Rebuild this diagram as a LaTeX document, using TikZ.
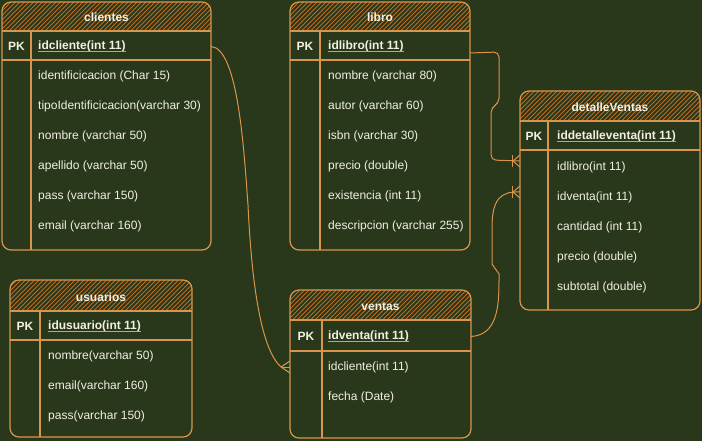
\documentclass[tikz,border=0pt]{standalone}
\usepackage{fontspec}
\setmainfont{Liberation Sans}
\definecolor{bg}{HTML}{29371B}
\definecolor{edge}{HTML}{D9954C}
\definecolor{hatchc}{HTML}{C06C22}
\definecolor{txt}{HTML}{F2F0E2}
\definecolor{ulc}{HTML}{A9AC98}
\tikzset{
  tblbox/.style={draw=edge, line width=1.2pt, rounded corners=9pt, inner sep=0pt, outer sep=0pt, rectangle},
  tblline/.style={draw=edge, line width=1.2pt},
  hatchline/.style={draw=hatchc, line width=0.9pt},
  fld/.style={font=\fontsize{12}{14}\selectfont, text=txt, anchor=west, inner sep=0pt, yshift=-1pt},
  pkfld/.style={fld, font=\fontsize{12}{14}\selectfont\bfseries},
  pklbl/.style={font=\fontsize{12}{14}\selectfont\bfseries, text=txt, inner sep=0pt, yshift=-1pt},
  ttl/.style={font=\fontsize{12}{14}\selectfont\bfseries, text=txt, inner sep=0pt, yshift=-1pt},
  ulline/.style={draw=ulc, line width=0.8pt},
  conn/.style={draw=edge, line width=1pt},
}
% #1 name, #2 x1, #3 y1, #4 x2, #5 y2, #6 divider x, #7 header bottom, #8 pk bottom
\newcommand\ertbl[8]{%
  \begin{scope}
    \clip (#2,#7) [rounded corners=9pt] -- (#2,#3) -- (#4,#3) [sharp corners] -- (#4,#7) -- cycle;
    \foreach \k in {0,4.5,...,260} \draw[hatchline] ({#2+\k-40},{#7+2}) -- ++(44,-44);
  \end{scope}
  \node[tblbox, minimum width={#4-#2}, minimum height={#5-#3}] (#1) at ({(#2+#4)/2},{(#3+#5)/2}) {};
  \draw[tblline] (#2,#7) -- (#4,#7);
  \draw[tblline] (#2,#8) -- (#4,#8);
  \draw[tblline] (#6,#7) -- (#6,#5);
}
\newcommand\pkul[1]{\draw[ulline] ([yshift=-2pt]#1.base west) -- ([yshift=-2pt]#1.base east);}
\begin{document}
\begin{tikzpicture}[x=1pt,y=-1pt]
\fill[bg] (0,0) rectangle (702,441);
\useasboundingbox (0,0) rectangle (702,441);

% clientes
\ertbl{clientes}{2}{2}{211}{250}{31}{31}{60}
\node[ttl] (cl-t) at (106.5,16.5) {clientes};
\node[pklbl] (cl-pkl) at (16.5,45.5) {PK};
\node[pkfld] (cl-pk) at (38,45.5) {idcliente(int 11)};
\pkul{cl-pk}
\node[fld] (cl-f1) at (38,75) {identificicacion (Char 15)};
\node[fld] (cl-f2) at (38,105) {tipoIdentificicacion(varchar 30)};
\node[fld] (cl-f3) at (38,135) {nombre (varchar 50)};
\node[fld] (cl-f4) at (38,165) {apellido (varchar 50)};
\node[fld] (cl-f5) at (38,195) {pass (varchar 150)};
\node[fld] (cl-f6) at (38,225) {email (varchar 160)};

% libro
\ertbl{libro}{290}{2}{470}{250}{320}{31}{60}
\node[ttl] (li-t) at (380,16.5) {libro};
\node[pklbl] (li-pkl) at (305,45.5) {PK};
\node[pkfld] (li-pk) at (328,45.5) {idlibro(int 11)};
\pkul{li-pk}
\node[fld] (li-f1) at (328,75) {nombre (varchar 80)};
\node[fld] (li-f2) at (328,105) {autor (varchar 60)};
\node[fld] (li-f3) at (328,135) {isbn (varchar 30)};
\node[fld] (li-f4) at (328,165) {precio (double)};
\node[fld] (li-f5) at (328,195) {existencia (int 11)};
\node[fld] (li-f6) at (328,225) {descripcion (varchar 255)};

% detalleVentas
\ertbl{dv}{520}{91}{700}{310}{548}{121}{150}
\node[ttl] (dv-t) at (610,106) {detalleVentas};
\node[pklbl] (dv-pkl) at (534,135.5) {PK};
\node[pkfld] (dv-pk) at (557,135.5) {iddetalleventa(int 11)};
\pkul{dv-pk}
\node[fld] (dv-f1) at (557,166) {idlibro(int 11)};
\node[fld] (dv-f2) at (557,196) {idventa(int 11)};
\node[fld] (dv-f3) at (557,226) {cantidad (int 11)};
\node[fld] (dv-f4) at (557,256) {precio (double)};
\node[fld] (dv-f5) at (557,286) {subtotal (double)};

% usuarios
\ertbl{usuarios}{10}{280}{192}{437}{40}{311}{340}
\node[ttl] (us-t) at (101,296) {usuarios};
\node[pklbl] (us-pkl) at (25,325.5) {PK};
\node[pkfld] (us-pk) at (48,325.5) {idusuario(int 11)};
\pkul{us-pk}
\node[fld] (us-f1) at (48,355) {nombre(varchar 50)};
\node[fld] (us-f2) at (48,385) {email(varchar 160)};
\node[fld] (us-f3) at (48,415) {pass(varchar 150)};

% ventas
\ertbl{ventas}{290}{290}{471}{438}{322}{320}{351}
\node[ttl] (ve-t) at (380.5,306) {ventas};
\node[pklbl] (ve-pkl) at (306,335.5) {PK};
\node[pkfld] (ve-pk) at (328,335.5) {idventa(int 11)};
\pkul{ve-pk}
\node[fld] (ve-f1) at (328,366) {idcliente(int 11)};
\node[fld] (ve-f2) at (328,396) {fecha (Date)};

% connector clientes -> ventas
\coordinate (c1s) at (clientes.east |- cl-pk);
\coordinate (c1e) at (ventas.west |- ve-f1);
\coordinate (c1a) at ([xshift=-9pt]c1e);
\draw[conn] (c1s) .. controls (238,48) and (244,150) .. (248,205) .. controls (252,290) and (262,350) .. (c1a);
\draw[conn] (c1a) -- (c1e);
\draw[conn] (c1a) -- ([yshift=6pt]c1e);
\draw[conn] (c1a) -- ([yshift=-6pt]c1e);

% connector libro -> detalleVentas
\coordinate (c2s) at ([yshift=-6.5pt]libro.east |- li-pk);
\coordinate (c2e) at ([yshift=6pt]dv.west |- dv-f1);
\draw[conn, rounded corners=5pt] (c2s) -- (499,52) -- (499,103) -- (491,108) -- (491,160) -- (c2e);
\draw[conn] ([xshift=-8pt,yshift=6pt]c2e) -- ([xshift=-8pt,yshift=-6pt]c2e);
\draw[conn] ([xshift=-7pt]c2e) -- ([yshift=6pt]c2e);
\draw[conn] ([xshift=-7pt]c2e) -- ([yshift=-6pt]c2e);

% connector ventas -> detalleVentas
\coordinate (c3s) at (ventas.east |- ve-pk);
\coordinate (c3e) at ([yshift=5pt]dv.west |- dv-f2);
\draw[conn] (c3s) .. controls (500,335) and (499,300) .. (499,274) -- (492,264) -- (492,228) .. controls (492,200) and (500,191) .. (c3e);
\draw[conn] ([xshift=-8pt,yshift=6pt]c3e) -- ([xshift=-8pt,yshift=-6pt]c3e);
\draw[conn] ([xshift=-7pt]c3e) -- ([yshift=6pt]c3e);
\draw[conn] ([xshift=-7pt]c3e) -- ([yshift=-6pt]c3e);
\end{tikzpicture}
\end{document}
